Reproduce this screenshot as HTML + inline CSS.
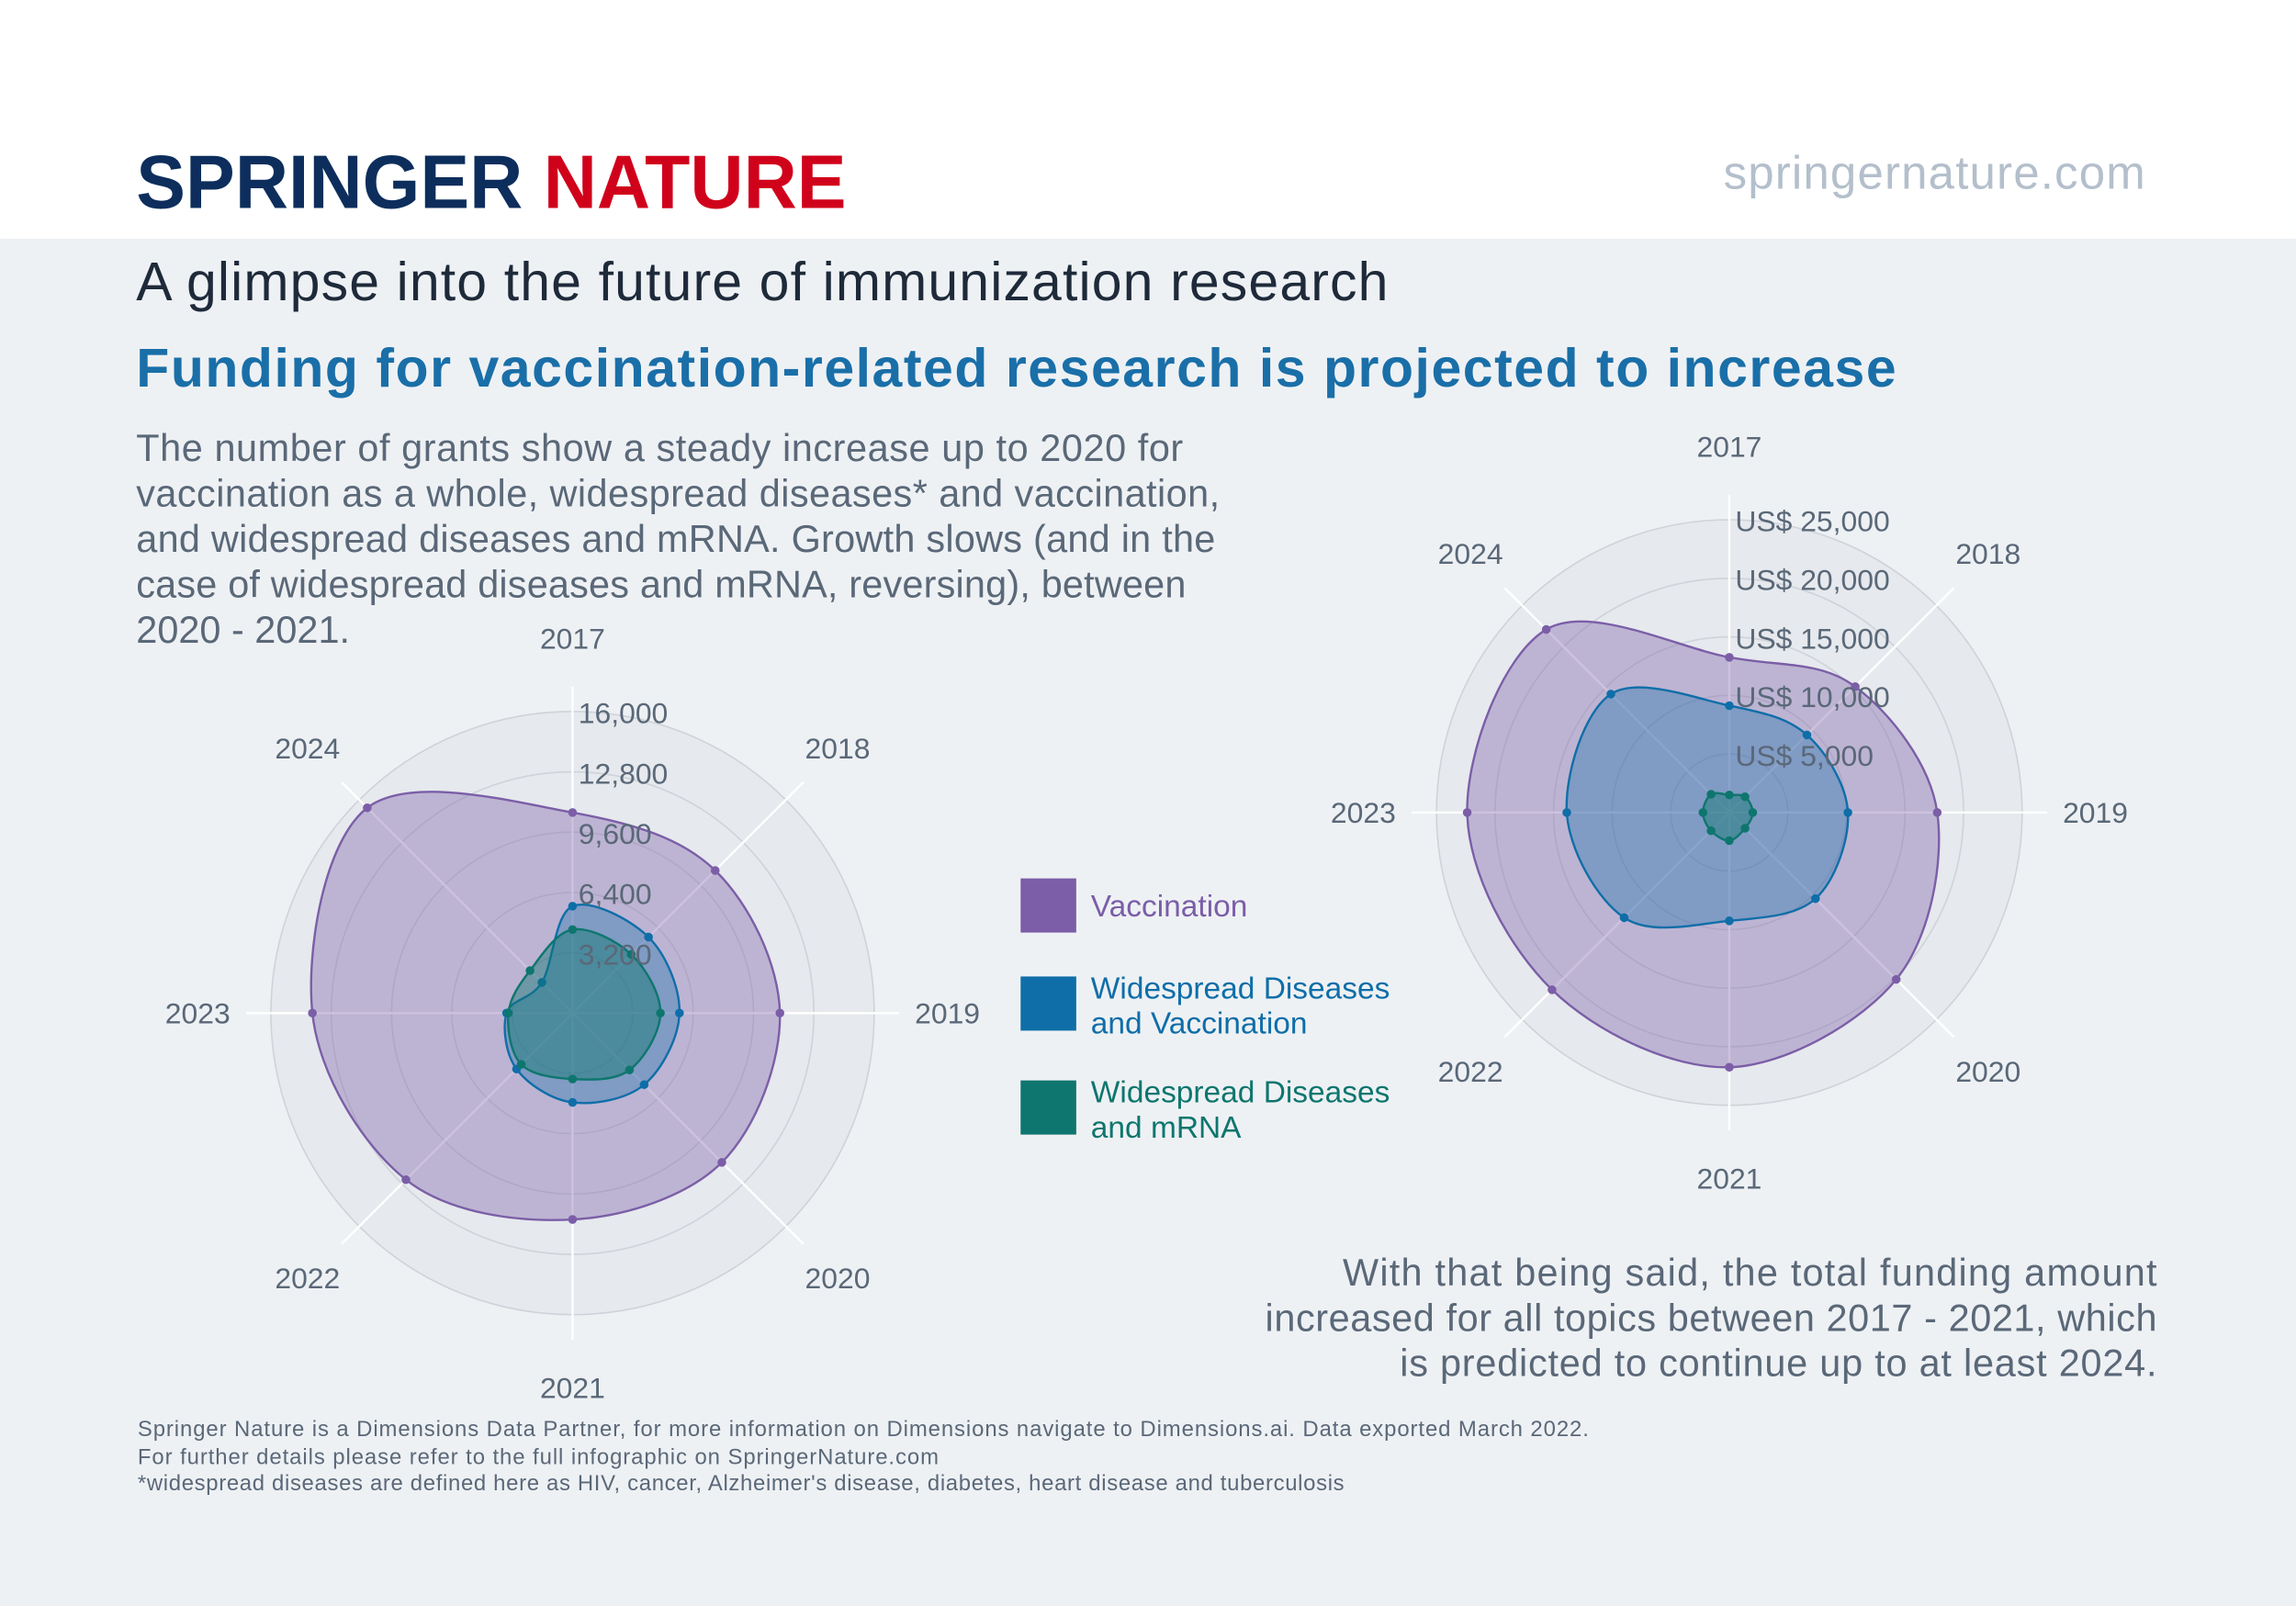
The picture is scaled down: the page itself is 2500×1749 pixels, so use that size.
<!DOCTYPE html>
<html><head><meta charset="utf-8"><style>
html,body{margin:0;padding:0;background:#eef1f4}
svg{display:block;font-family:"Liberation Sans",sans-serif}
</style></head><body>
<svg id="root" width="2500" height="1749" viewBox="0 0 1568 1097">
<rect x="0" y="0" width="1568" height="1097" fill="#eef1f4"/>
<rect x="0" y="0" width="1568" height="163" fill="#ffffff"/>
<text x="93" y="142" font-size="52" font-weight="bold" textLength="485" lengthAdjust="spacingAndGlyphs"><tspan fill="#0d2e5c">SPRINGER</tspan><tspan fill="#d0021b"> NATURE</tspan></text>
<text x="1465" y="129" font-size="32" fill="#b4bfcc" text-anchor="end" textLength="288">springernature.com</text>
<text x="93" y="205" font-size="37" fill="#1e2a3a" textLength="855">A glimpse into the future of immunization research</text>
<text x="93" y="264" font-size="37" font-weight="bold" fill="#1a6fa8" textLength="1202">Funding for vaccination-related research is projected to increase</text>
<g font-size="26" fill="#5a6878">
<text x="93" y="315" textLength="715">The number of grants show a steady increase up to 2020 for</text>
<text x="93" y="346" textLength="740">vaccination as a whole, widespread diseases* and vaccination,</text>
<text x="93" y="377" textLength="737">and widespread diseases and mRNA. Growth slows (and in the</text>
<text x="93" y="408" textLength="717">case of widespread diseases and mRNA, reversing), between</text>
<text x="93" y="439">2020 - 2021.</text>
</g>
<g font-size="26" fill="#5a6878" text-anchor="end">
<text x="1473" y="878" textLength="556">With that being said, the total funding amount</text>
<text x="1473" y="909" textLength="609">increased for all topics between 2017 - 2021, which</text>
<text x="1473" y="940" textLength="517">is predicted to continue up to at least 2024.</text>
</g>
<g font-size="15" fill="#5a6878">
<text x="94" y="981" textLength="991">Springer Nature is a Dimensions Data Partner, for more information on Dimensions navigate to Dimensions.ai. Data exported March 2022.</text>
<text x="94" y="1000" textLength="547">For further details please refer to the full infographic on SpringerNature.com</text>
<text x="94" y="1018" textLength="824">*widespread diseases are defined here as HIV, cancer, Alzheimer's disease, diabetes, heart disease and tuberculosis</text>
</g>
<g>
<g><rect x="697" y="600" width="38" height="37" fill="#7b5ea7"/><text x="745" y="626" font-size="21" fill="#7b5ea7">Vaccination</text></g>
<g><rect x="697" y="667" width="38" height="37" fill="#0f6ea8"/><text x="745" y="682" font-size="21" fill="#0f6ea8">Widespread Diseases</text><text x="745" y="706" font-size="21" fill="#0f6ea8">and Vaccination</text></g>
<g><rect x="697" y="738" width="38" height="37" fill="#0e766e"/><text x="745" y="753" font-size="21" fill="#0e766e">Widespread Diseases</text><text x="745" y="777" font-size="21" fill="#0e766e">and mRNA</text></g>
</g>
<g id="left"></g>
<g id="right"></g>
</svg>
<script>
const years = ["2017","2018","2019","2020","2021","2022","2023","2024"];
const grantsVaccination = [10640,10700,11000,11200,10950,12500,13800,15400];
const grantsWidespreadVacc = [5670,5700,5670,5370,4740,4200,3500,2300];
const grantsWidespreadMrna = [4430,4400,4660,4270,3500,3850,3400,3190];
const grantsTicks = [3200,6400,9600,12800,16000];
const grantsTickLabels = ["3,200","6,400","9,600","12,800","16,000"];
const fundVaccination = [13250,15200,17750,20150,21750,21400,22375,22100];
const fundWidespreadVacc = [9125,9370,10125,10400,9250,12700,13875,14300];
const fundWidespreadMrna = [1500,1900,2000,1900,2400,2200,2250,2200];
const fundTicks = [5000,10000,15000,20000,25000];
const fundTickLabels = ["US$ 5,000","US$ 10,000","US$ 15,000","US$ 20,000","US$ 25,000"];

const NS="http://www.w3.org/2000/svg";
function mk(parent,tag,attrs){const e=document.createElementNS(NS,tag);for(const k in attrs)e.setAttribute(k,attrs[k]);parent.appendChild(e);return e;}
function spline(pts){
  const n=pts.length;let d=`M${pts[0][0]},${pts[0][1]}`;
  for(let i=0;i<n;i++){
    const p0=pts[(i-1+n)%n],p1=pts[i],p2=pts[(i+1)%n],p3=pts[(i+2)%n];
    const c1=[p1[0]+(p2[0]-p0[0])/6,p1[1]+(p2[1]-p0[1])/6];
    const c2=[p2[0]-(p3[0]-p1[0])/6,p2[1]-(p3[1]-p1[1])/6];
    d+=`C${c1[0]},${c1[1]} ${c2[0]},${c2[1]} ${p2[0]},${p2[1]}`;
  }
  return d+"Z";
}
function radar(g,cx,cy,R,maxV,ticks,tickLabels,series,prefix){
  const r=v=>v/maxV*R;
  const ang=i=>-Math.PI/2+i*2*Math.PI/years.length;
  const pt=(i,v)=>[cx+r(v)*Math.cos(ang(i)),cy+r(v)*Math.sin(ang(i))];
  const bg=mk(g,'circle',{cx,cy,r:R,fill:'#e6e9ed'});
  
  
  ticks.forEach((t,i)=>{
    const c=mk(g,'circle',{cx,cy,r:r(t),fill:'none',stroke:'#cfd3d9','stroke-width':1});
    
    
  });
  years.forEach((y,i)=>{
    const a=ang(i),L=R+17;
    const l=mk(g,'line',{x1:cx,y1:cy,x2:cx+L*Math.cos(a),y2:cy+L*Math.sin(a),stroke:'#ffffff','stroke-width':1.5});
    
    
    const LR=R+50;
    const t=mk(g,'text',{x:cx+LR*Math.cos(a),y:cy+LR*Math.sin(a)+7,'font-size':20,fill:'#5a6878','text-anchor':'middle'});
    t.textContent=y;
    
    
  });
  series.forEach(s=>{
    const pts=s.vals.map((v,i)=>pt(i,v));
    const p=mk(g,'path',{d:spline(pts),fill:s.fill,stroke:s.stroke,'stroke-width':1.5});
    
    
    pts.forEach(q=>{
      const c=mk(g,'circle',{cx:q[0],cy:q[1],r:3,fill:s.stroke});
      
      
    });
  });
  ticks.forEach((t,i)=>{
    const tx=mk(g,'text',{x:cx+4,y:cy-r(t)+8,'font-size':20,fill:'#5a6878'});
    tx.textContent=tickLabels[i];
    
    
  });
}
const P={fill:'rgba(123,94,167,0.38)',stroke:'#7b5ea7'},B={fill:'rgba(15,110,168,0.35)',stroke:'#0f6ea8'},G={fill:'rgba(14,118,110,0.45)',stroke:'#0e766e'};
radar(document.getElementById('left'),391,692,206,16000,grantsTicks,grantsTickLabels,[
 {name:'vaccination',vals:grantsVaccination,...P},
 {name:'widespread-vaccination',vals:grantsWidespreadVacc,...B},
 {name:'widespread-mrna',vals:grantsWidespreadMrna,...G}],'grants');
radar(document.getElementById('right'),1181,555,200,25000,fundTicks,fundTickLabels,[
 {name:'vaccination',vals:fundVaccination,...P},
 {name:'widespread-vaccination',vals:fundWidespreadVacc,...B},
 {name:'widespread-mrna',vals:fundWidespreadMrna,...G}],'funding');
</script>
</body></html>
